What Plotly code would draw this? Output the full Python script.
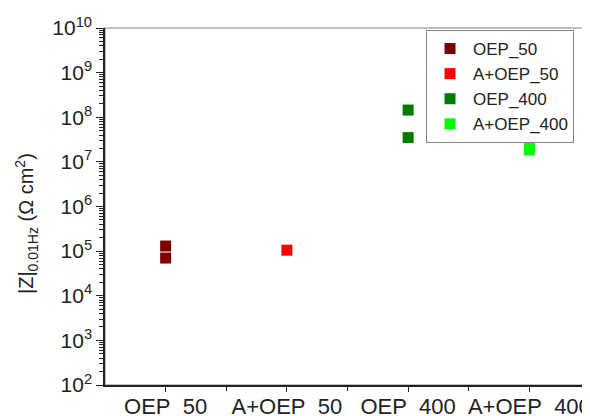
import plotly.graph_objects as go

categories = ["OEP_50", "A+OEP_50", "OEP_400", "A+OEP_400"]
series_names = ["OEP_50", "A+OEP_50", "OEP_400", "A+OEP_400"]
series_x = [[1, 1], [2], [3, 3], [4, 4]]
series_y = [[1.3e5, 7.0e4], [1.05e5], [1.45e8, 3.5e7], [2.5e7, 1.85e7]]
colors = ["#7b0000", "#ff0000", "#007a00", "#00ff00"]
ytick_vals = [10**k for k in range(2, 11)]
ytick_text = [f"10<sup>{k}</sup>" for k in range(2, 11)]

FONT = "Arial, Liberation Sans, sans-serif"
TXT = "#222222"

# page body has an 8px default margin; compensate so the plot lands where intended
OFF_X, OFF_Y = 7, 6
L, R, T, B = 104 - OFF_X, 590 - (589 - OFF_X), 26 - OFF_Y, 416 - (383 - OFF_Y)
PW, PH = 589 - 104, 383 - 26

fig = go.Figure()
for name, xs, ys, c in zip(series_names, series_x, series_y, colors):
    fig.add_trace(go.Scatter(
        x=xs, y=ys, mode="markers", name=name,
        marker=dict(symbol="square", size=11, color=c, line=dict(width=0)),
    ))

fig.update_layout(
    width=590, height=416,
    margin=dict(l=L, r=R, t=T, b=B),
    paper_bgcolor="white", plot_bgcolor="white",
    font=dict(family=FONT, color=TXT),
    showlegend=True,
    legend=dict(
        x=(425 - 104) / PW, xanchor="left", y=(383 - 28) / PH, yanchor="top",
        bgcolor="white", bordercolor="#888888", borderwidth=1,
        font=dict(size=17, family=FONT, color=TXT),
        itemwidth=36, tracegroupgap=0,
    ),
    xaxis=dict(
        range=[0.5, 4.5], automargin=False,
        tickmode="array", tickvals=[1, 2, 3, 4], ticktext=categories,
        ticks="outside", ticklen=5, tickwidth=1, tickcolor=TXT,
        ticklabelstandoff=-4,
        minor=dict(tickmode="array", tickvals=[1.5, 2.5, 3.5], ticks="outside", ticklen=4, tickcolor=TXT),
        showline=True, linecolor=TXT, linewidth=1.5,
        showgrid=False, zeroline=False,
        tickfont=dict(size=22, family=FONT, color=TXT),
    ),
    yaxis=dict(
        type="log", range=[2, 10], automargin=False,
        tickmode="array", tickvals=ytick_vals, ticktext=ytick_text,
        ticks="outside", ticklen=7, tickwidth=1, tickcolor=TXT,
        minor=dict(ticks="outside", ticklen=4, tickcolor=TXT, dtick="D1", showgrid=False),
        showline=True, linecolor=TXT, linewidth=1.5,
        showgrid=False, zeroline=False,
        tickfont=dict(size=21, family=FONT, color=TXT),
    ),
    shapes=[dict(type="rect", xref="paper", yref="paper", x0=0, x1=1, y0=0, y1=1,
                 line=dict(color="#aaaaaa", width=1.5), layer="below")],
    annotations=[dict(
        text="|Z|<sub>0.01Hz</sub> (Ω cm<sup>2</sup>)",
        xref="paper", yref="paper", x=(25 - 104) / PW, y=(383 - 222) / PH,
        xanchor="center", yanchor="middle", textangle=-90, showarrow=False,
        font=dict(size=20, family=FONT, color=TXT),
    )],
)

fig.write_html("out.html")
